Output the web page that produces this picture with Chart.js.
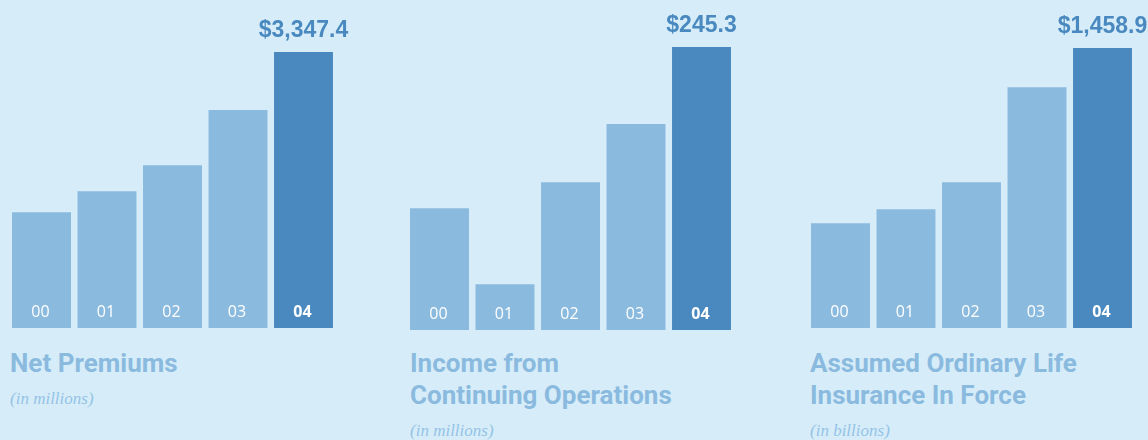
<!DOCTYPE html>
<html>
<head>
<meta charset="utf-8">
<script src="https://cdn.jsdelivr.net/npm/chart.js@4"></script>
<style>
  html, body { margin: 0; padding: 0; }
  body { width: 1148px; height: 440px; background: #d6edf9; position: relative; overflow: hidden; }
  canvas { position: absolute; top: 0; }
  .cap { position: absolute; top: 347px; }
  .title { font-family: Roboto, "Liberation Sans", sans-serif; font-weight: bold; font-size: 26px; line-height: 32px; color: #8bbadf; }
  .sub { font-family: "Liberation Serif", serif; font-style: italic; font-size: 17px; line-height: 20px; color: #94c3e6; margin-top: 10px; }
</style>
</head>
<body>
<canvas id="c1" width="380" height="340" style="left:0px"></canvas>
<canvas id="c2" width="380" height="340" style="left:400px"></canvas>
<canvas id="c3" width="358" height="340" style="left:790px"></canvas>

<div class="cap" style="left:10px"><div class="title">Net Premiums</div><div class="sub">(in millions)</div></div>
<div class="cap" style="left:410px"><div class="title">Income from<br>Continuing Operations</div><div class="sub">(in millions)</div></div>
<div class="cap" style="left:810px"><div class="title">Assumed Ordinary Life<br>Insurance In Force</div><div class="sub">(in billions)</div></div>

<script>
const years = ['00', '01', '02', '03', '04'];
const netPremiums = [1404.6, 1659.6, 1975.0, 2643.0, 3347.4];
const incomeContinuingOps = [105.6, 39.6, 128.1, 178.5, 245.3];
const lifeInsuranceInForce = [546, 619, 760, 1255, 1458.9];
const valueLabels = ['$3,347.4', '$245.3', '$1,458.9'];

const LIGHT = '#8bbadf';
const DARK = '#4a89bf';

const barText = {
  id: 'barText',
  afterDatasetsDraw(chart, args, opts) {
    const ctx = chart.ctx;
    const meta = chart.getDatasetMeta(0);
    const n = meta.data.length;
    ctx.save();
    ctx.textAlign = 'center';
    ctx.textBaseline = 'alphabetic';
    meta.data.forEach((bar, i) => {
      const last = i === n - 1;
      ctx.fillStyle = '#ffffff';
      ctx.font = (last ? 'bold ' : '') + '16px "Open Sans", sans-serif';
      ctx.fillText(chart.data.labels[i], bar.x - 1, bar.base - 11);
    });
    const lb = meta.data[n - 1];
    ctx.fillStyle = DARK;
    ctx.font = 'bold 23px "Liberation Sans", Arial, sans-serif';
    ctx.fillText(opts.value, lb.x, lb.y - 15);
    ctx.restore();
  }
};

function makeChart(id, values, label, pad) {
  const n = values.length;
  new Chart(document.getElementById(id), {
    type: 'bar',
    data: {
      labels: years,
      datasets: [{
        data: values,
        backgroundColor: values.map((v, i) => i === n - 1 ? DARK : LIGHT),
        borderWidth: 0,
        categoryPercentage: 1.0,
        barPercentage: 0.9
      }]
    },
    options: {
      responsive: false,
      animation: false,
      events: [],
      layout: { padding: pad },
      plugins: {
        legend: { display: false },
        tooltip: { enabled: false },
        barText: { value: label }
      },
      scales: {
        x: { display: false },
        y: { display: false, min: 0, max: Math.max(...values) }
      }
    },
    plugins: [barText]
  });
}

makeChart('c1', netPremiums, valueLabels[0], { left: 8.75, right: 43.75, top: 52, bottom: 12 });
makeChart('c2', incomeContinuingOps, valueLabels[1], { left: 6.75, right: 45.75, top: 47, bottom: 10 });
makeChart('c3', lifeInsuranceInForce, valueLabels[2], { left: 17.75, right: 12.75, top: 48, bottom: 12 });
</script>
</body>
</html>
